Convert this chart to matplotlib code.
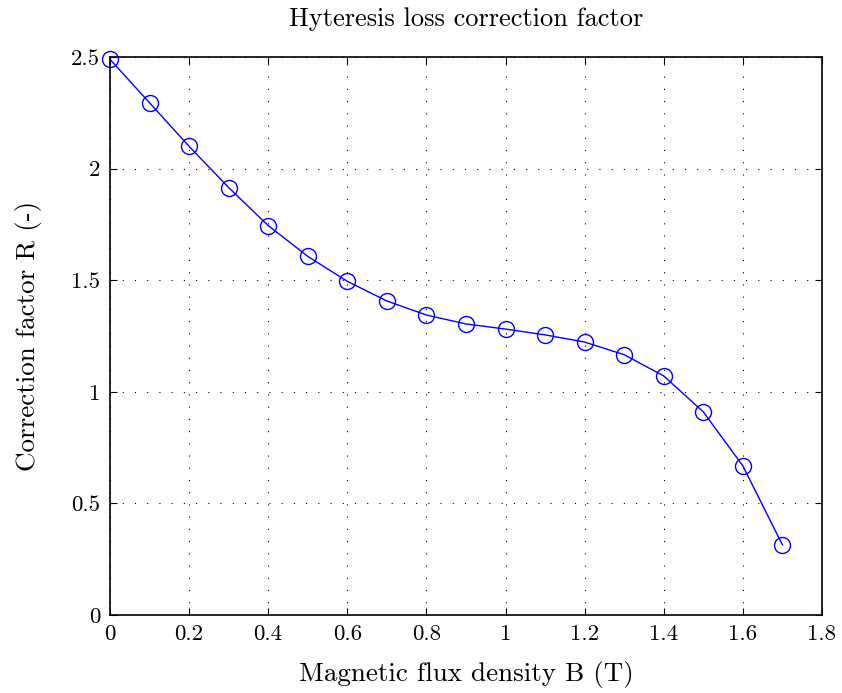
import matplotlib
matplotlib.use("Agg")
import matplotlib.pyplot as plt

# Correction factor vs flux density
flux_density = [0.0, 0.1, 0.2, 0.3, 0.4, 0.5, 0.6, 0.7, 0.8, 0.9,
                1.0, 1.1, 1.2, 1.3, 1.4, 1.5, 1.6, 1.7]
correction = [2.49, 2.295, 2.10, 1.915, 1.745, 1.607, 1.495, 1.407, 1.344, 1.304,
              1.281, 1.255, 1.223, 1.166, 1.071, 0.910, 0.668, 0.314]

x_ticks = [0, 0.2, 0.4, 0.6, 0.8, 1.0, 1.2, 1.4, 1.6, 1.8]
x_labels = ["0", "0.2", "0.4", "0.6", "0.8", "1", "1.2", "1.4", "1.6", "1.8"]
y_ticks = [0, 0.5, 1.0, 1.5, 2.0, 2.5]
y_labels = ["0", "0.5", "1", "1.5", "2", "2.5"]

plt.rcParams["font.family"] = "serif"
plt.rcParams["font.serif"] = ["cmr10", "DejaVu Serif"]
plt.rcParams["axes.formatter.use_mathtext"] = True

fig = plt.figure(figsize=(8.42, 6.93), dpi=100)
ax = fig.add_axes([0.1306, 0.1126, 0.8456, 0.8051])

ax.plot(flux_density, correction, color="#0000ff", linewidth=1.0,
        marker="o", markersize=11.5, markerfacecolor="none",
        markeredgecolor="#0000ff", markeredgewidth=1.0, clip_on=False, zorder=3)

ax.set_xlim(0, 1.8)
ax.set_ylim(0, 2.5)
ax.set_xticks(x_ticks)
ax.set_xticklabels(x_labels)
ax.set_yticks(y_ticks)
ax.set_yticklabels(y_labels)
ax.tick_params(direction="in", top=True, right=True, length=5, width=0.8,
               labelsize=16.5, pad=7)
for s in ax.spines.values():
    s.set_linewidth(1.2)

ax.grid(True, color="black", linestyle=(0, (1, 10)), linewidth=0.8)

ax.set_xlabel("Magnetic flux density B (T)", fontsize=19.5, labelpad=12)
ax.set_ylabel("Correction factor R (-)", fontsize=19.5, labelpad=21)
ax.set_title("Hyteresis loss correction factor", fontsize=19, pad=22)

fig.savefig("out.png", dpi=100)
